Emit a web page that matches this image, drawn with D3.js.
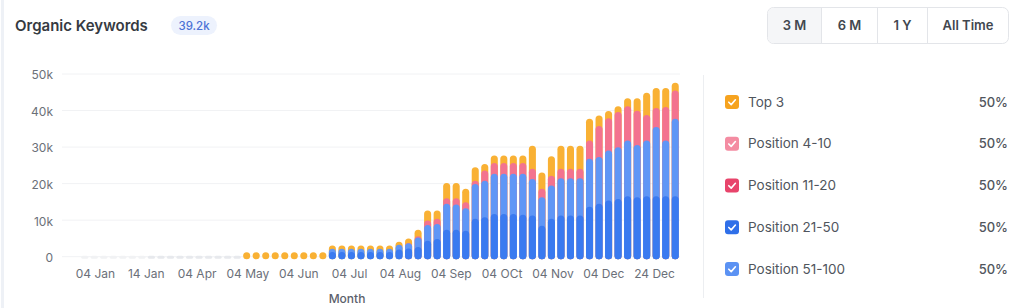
<!DOCTYPE html>
<html>
<head>
<meta charset="utf-8">
<script src="https://cdn.jsdelivr.net/npm/d3@7"></script>
<style>
  html, body { margin: 0; padding: 0; background: #fff; }
  svg { display: block; font-family: Inter, "Open Sans", sans-serif; }
</style>
</head>
<body>
<div id="container"></div>
<script>
// tick labels along the x axis (evenly spread, as in the source)
const tickLabels = ["04 Jan", "14 Jan", "04 Apr", "04 May", "04 Jun", "04 Jul",
  "04 Aug", "04 Sep", "04 OCt", "04 Nov", "04 Dec", "24 Dec"];

// one value per bar (63 bars)
const z17 = Array(17).fill(0);
const z9 = Array(9).fill(0);

const top3 = [...z17, 600, 600, 600, 600, 600, 600, 600, 600, 600,
  900, 900, 900, 900, 900, 900, 900, 800, 1200, 1800, 2800, 2300, 4200, 4200, 3700,
  3700, 1800, 2000, 2000, 2000, 2000, 6300, 4500, 5300, 6300, 6300, 6300, 6000,
  2900, 2000, 1600, 2200, 3400, 6100, 5500, 5200, 2100];

const pos4to10 = [...z17, ...z9,
  0, 0, 0, 0, 0, 0, 0, 0, 100, 300, 1200, 1400, 1500, 1700, 1600,
  900, 2800, 3000, 3000, 3000, 3000, 2800, 2300, 2700, 2600, 2600, 2600, 5000,
  8500, 8800, 9600, 9400, 9400, 7000, 5200, 9200, 7700];

const pos11to20 = Array(63).fill(0);

const pos21to50 = [...z17, ...z9,
  1000, 1000, 1000, 1000, 1000, 1000, 1000, 1700, 2000, 2400, 4100, 4600, 7100, 7100, 6800,
  10100, 10500, 11400, 11400, 11400, 11200, 11000, 8200, 10100, 11000, 11000, 11000, 13400,
  14200, 15100, 15500, 16300, 16000, 16300, 16300, 16300, 16300];

const pos51to100 = [...z17, ...z9,
  900, 900, 900, 900, 900, 900, 900, 1300, 1400, 2600, 4300, 4100, 7100, 6900, 6200,
  9500, 10000, 11000, 11000, 11000, 11200, 10000, 7800, 9100, 10200, 10200, 10200, 13100,
  12800, 13700, 14200, 15200, 14300, 15200, 18900, 15200, 21200];

const yTicks = [0, 10000, 20000, 30000, 40000, 50000];

const legendNames = ["Top 3", "Position 4-10", "Position 11-20", "Position 21-50", "Position 51-100"];
const legendShares = ["50%", "50%", "50%", "50%", "50%"];
const legendColors = ["#f6a31f", "#f48ca2", "#e8446b", "#2f6fe9", "#5b92f3"];

const width = 1024;
const height = 308;

const svg = d3.select('#container')
  .append('svg')
  .attr('width', width)
  .attr('height', height)
  .attr('viewBox', [0, 0, width, height]);

// faint card edge on the left
svg.append('line')
  .attr('x1', 2.5).attr('x2', 2.5).attr('y1', 0).attr('y2', height)
  .attr('stroke', '#eef1f6').attr('stroke-width', 3);

// header
svg.append('text')
  .attr('x', 15).attr('y', 31)
  .attr('font-size', 15).attr('font-weight', 600)
  .attr('fill', '#353a42')
  .text('Organic Keywords');

svg.append('rect')
  .attr('x', 171).attr('y', 16).attr('width', 46).attr('height', 19)
  .attr('rx', 9.5).attr('fill', '#edf2fd');
svg.append('text')
  .attr('x', 194).attr('y', 30)
  .attr('text-anchor', 'middle')
  .attr('font-size', 11.5).attr('font-weight', 500)
  .attr('fill', '#4c72d6')
  .text('39.2k');

// range buttons
const buttons = ["3 M", "6 M", "1 Y", "All Time"];
const btnEdges = [767.5, 821.5, 877.5, 927.5, 1008.5];
const btn = svg.append('g');
btn.append('rect')
  .attr('x', 767.5).attr('y', 7.5).attr('width', 241).attr('height', 36)
  .attr('rx', 6).attr('fill', '#fff').attr('stroke', '#e3e5e9');
btn.append('path')
  .attr('d', 'M821.5,8 H773.5 a5.5,5.5 0 0 0 -5.5,5.5 V37.5 a5.5,5.5 0 0 0 5.5,5.5 H821.5 Z')
  .attr('fill', '#f5f6f8');
btn.selectAll('line')
  .data(btnEdges.slice(1, -1))
  .join('line')
  .attr('x1', d => d).attr('x2', d => d)
  .attr('y1', 8).attr('y2', 43)
  .attr('stroke', '#e3e5e9');
btn.selectAll('text')
  .data(buttons)
  .join('text')
  .attr('x', (d, i) => (btnEdges[i] + btnEdges[i + 1]) / 2)
  .attr('y', 30)
  .attr('text-anchor', 'middle')
  .attr('font-size', 13).attr('font-weight', 600)
  .attr('fill', '#42474f')
  .text(d => d);

// scales
const n = top3.length;
const xScale = d3.scaleBand(d3.range(n), [80, 680]).paddingInner(0.26).paddingOuter(0.13);
const xLabels = d3.scaleBand(tickLabels, [70, 680]);
const yScale = d3.scaleLinear([0, 50000], [256.7, 74]);

// grid
svg.append('g')
  .selectAll('line')
  .data(yTicks)
  .join('line')
  .attr('x1', 62).attr('x2', 680)
  .attr('y1', d => yScale(d)).attr('y2', d => yScale(d))
  .attr('stroke', '#f1f2f4');

// y axis
const yAxis = d3.axisLeft(yScale)
  .tickValues(yTicks)
  .tickSize(0)
  .tickPadding(0)
  .tickFormat(d => d === 0 ? '0' : d / 1000 + 'k');
svg.append('g')
  .attr('transform', 'translate(53,1)')
  .call(yAxis)
  .call(g => g.select('.domain').remove())
  .call(g => g.selectAll('text')
    .attr('font-family', 'Inter, sans-serif')
    .attr('font-size', 12)
    .attr('fill', '#6b7079'));

// x axis
const xAxis = d3.axisBottom(xLabels).tickSize(0).tickPadding(0);
svg.append('g')
  .attr('transform', 'translate(0,269)')
  .call(xAxis)
  .call(g => g.select('.domain').remove())
  .call(g => g.selectAll('text')
    .attr('font-family', 'Inter, sans-serif')
    .attr('font-size', 12)
    .attr('fill', '#6b7079'));

svg.append('text')
  .attr('x', 347).attr('y', 303)
  .attr('text-anchor', 'middle')
  .attr('font-size', 12).attr('font-weight', 500)
  .attr('fill', '#5b616b')
  .text('Month');

// stacked bars: bottom -> top
const series = [
  { name: "Position 21-50", values: pos21to50, color: "#3a7af0" },
  { name: "Position 51-100", values: pos51to100, color: "#5f96f6" },
  { name: "Position 11-20", values: pos11to20, color: "#e8446b" },
  { name: "Position 4-10", values: pos4to10, color: "#f3738f" },
  { name: "Top 3", values: top3, color: "#f9b134" }
];

const table = d3.range(n).map(i => {
  const row = { i };
  series.forEach(s => row[s.name] = s.values[i]);
  return row;
});
const stacked = d3.stack().keys(series.map(s => s.name))(table);

const bw = xScale.bandwidth();
const base = yScale(0) + 2.5;

// placeholder dashes where there is no data
svg.append('g')
  .selectAll('rect')
  .data(table.filter(d => series.every(s => d[s.name] === 0)))
  .join('rect')
  .attr('x', d => xScale(d.i))
  .attr('y', yScale(0) - 1)
  .attr('width', bw)
  .attr('height', 3)
  .attr('rx', 1.5)
  .attr('fill', d => d.i < 7 ? '#f1f2f4' : '#e7e9ed');

// draw from the top layer down so each lower layer rounds over the one above
const layers = svg.append('g');
stacked.slice().reverse().forEach(layer => {
  const s = series.find(q => q.name === layer.key);
  layers.append('g')
    .selectAll('rect')
    .data(layer.filter(d => d[1] > d[0]))
    .join('rect')
    .attr('x', d => xScale(d.data.i))
    .attr('y', d => Math.min(yScale(d[1]) - 1, base - bw))
    .attr('width', bw)
    .attr('height', d => base - Math.min(yScale(d[1]) - 1, base - bw))
    .attr('rx', bw / 2)
    .attr('fill', s.color);
});

// legend
svg.append('line')
  .attr('x1', 703.5).attr('x2', 703.5).attr('y1', 75).attr('y2', 298)
  .attr('stroke', '#eceef1');

const legendY = d3.scalePoint(legendNames, [102, 269]);
const legend = svg.append('g')
  .selectAll('g')
  .data(legendNames)
  .join('g')
  .attr('transform', d => `translate(0,${legendY(d)})`);

legend.append('rect')
  .attr('x', 725).attr('y', -7).attr('width', 14).attr('height', 14)
  .attr('rx', 3)
  .attr('fill', (d, i) => legendColors[i]);
legend.append('path')
  .attr('d', 'M728.8,0.2 L731.2,2.6 L735.4,-2.2')
  .attr('fill', 'none')
  .attr('stroke', '#fff')
  .attr('stroke-width', 1.6)
  .attr('stroke-linecap', 'round')
  .attr('stroke-linejoin', 'round');
legend.append('text')
  .attr('x', 748).attr('y', 4.5)
  .attr('font-size', 13.5)
  .attr('fill', '#50555d')
  .text(d => d);
legend.append('text')
  .attr('x', 1008).attr('y', 4.5)
  .attr('text-anchor', 'end')
  .attr('font-size', 13).attr('font-weight', 500)
  .attr('fill', '#50555d')
  .text((d, i) => legendShares[i]);
</script>
</body>
</html>
